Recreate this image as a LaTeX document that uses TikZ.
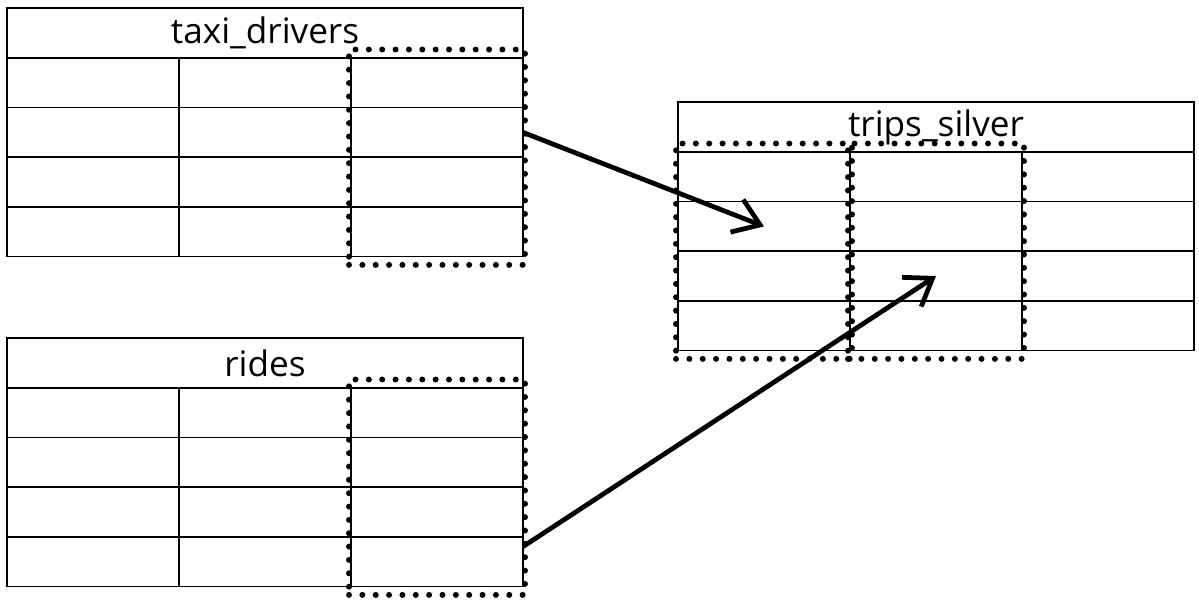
\documentclass[tikz,border=0pt]{standalone}
\usepackage{fontspec}
\setmainfont{Open Sans}
\usetikzlibrary{arrows.meta,fit}

\begin{document}
\begin{tikzpicture}[x=0.02cm,y=-0.02cm,
    cell/.style={draw,line width=0.9pt,minimum width=3.44cm,minimum height=0.992cm,inner sep=0pt,outer sep=0pt},
    head/.style={draw,line width=0.9pt,minimum width=10.32cm,minimum height=1cm,inner sep=0pt,outer sep=0pt,font=\fontsize{20}{24}\selectfont},
    pick/.style={draw,line width=3.4pt,line cap=round,dash pattern=on 0pt off 7.6pt,inner xsep=0.04cm,inner ysep=0.17cm},
    link/.style={line width=2.7pt,-{Straight Barb[length=5mm,width=7mm]}}]
            \useasboundingbox (0,0) rectangle (1199,605);

            % the three tables
            \foreach \t/\x/\y in {td/7/58, rd/7/388, ts/678/152}{
                \foreach \r in {1,...,4}{
                    \foreach \c in {1,2,3}{
                        \node[cell] (\t-\r-\c) at ({\x+172*(\c-0.5)}, {\y+49.6*(\r-0.5)}) {};
                    }
                }
            }
            \node[head] (td) at (265,33) {taxi\_drivers};
            \node[head] (rd) at (265,363) {rides};
            \node[head] (ts) at (936,127) {trips\_silver};

            % picked columns
            \node[pick, fit=(td-1-3)(td-4-3)] (td-pick) {};
            \node[pick, fit=(rd-1-3)(rd-4-3)] (rd-pick) {};
            \node[pick, fit=(ts-1-1)(ts-4-1)] (ts-pick-1) {};
            \node[pick, fit=(ts-1-2)(ts-4-2)] (ts-pick-2) {};

            \draw[link] (td-2-3.east) -- (ts-2-1.center);
            \draw[link] ([yshift=0.3cm]rd-4-3.east) -- (ts-3-2.center);
        \end{tikzpicture}
\end{document}
